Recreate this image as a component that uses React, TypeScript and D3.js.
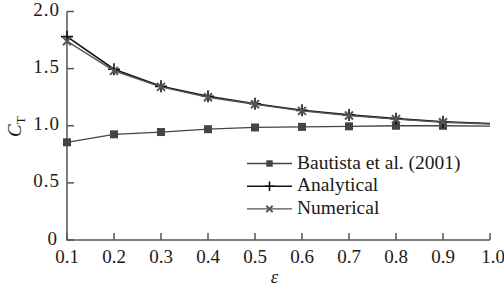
import React from "react";
import * as d3 from "d3";

const epsilon = [0.1, 0.2, 0.3, 0.4, 0.5, 0.6, 0.7, 0.8, 0.9, 1.0];
const bautista = [0.855, 0.925, 0.945, 0.97, 0.985, 0.99, 0.995, 1.0, 1.0, 0.997];
const analytical = [1.78, 1.495, 1.345, 1.258, 1.193, 1.135, 1.095, 1.062, 1.035, 1.02];
const numerical = [1.74, 1.48, 1.34, 1.25, 1.188, 1.13, 1.09, 1.058, 1.03, 1.015];
const xTicks = [0.1, 0.2, 0.3, 0.4, 0.5, 0.6, 0.7, 0.8, 0.9, 1.0];
const yTicks = [0, 0.5, 1.0, 1.5, 2.0];
const legendLabels = ["Bautista et al. (2001)", "Analytical", "Numerical"];

const W = 504, H = 290;
const x = d3.scaleLinear().domain([0.1, 1.0]).range([67, 490]);
const y = d3.scaleLinear().domain([0, 2.0]).range([240, 11.5]);
const font = "Liberation Serif";
const axisColor = "#555";
const textColor = "#1a1a1a";

export default function App() {
  const line = d3.line<number>().x((_, i) => x(epsilon[i])).y((v) => y(v));
  const series = [
    { data: bautista, color: "#444", marker: "square", width: 1.3 },
    { data: analytical, color: "#111", marker: "plus", width: 1.6 },
    { data: numerical, color: "#555", marker: "cross", width: 1.4 },
  ];
  const marker = (m: string, cx: number, cy: number, color: string, key: any, s = 1) => {
    if (m === "square")
      return <rect key={key} x={cx - 4 * s} y={cy - 4 * s} width={8 * s} height={8 * s} fill={color} />;
    if (m === "plus")
      return (
        <path key={key} d={`M${cx - 6 * s},${cy}H${cx + 6 * s}M${cx},${cy - 6 * s}V${cy + 6 * s}`} stroke={color} strokeWidth={1.6} />
      );
    return (
      <path
        key={key}
        d={`M${cx - 4 * s},${cy - 4 * s}L${cx + 4 * s},${cy + 4 * s}M${cx - 4 * s},${cy + 4 * s}L${cx + 4 * s},${cy - 4 * s}`}
        stroke={color}
        strokeWidth={2}
      />
    );
  };
  return (
    <svg width={W} height={H} style={{ position: "absolute", left: 0, top: 0, background: "#fff" }}>
      {/* axes */}
      <path d={`M${x(0.1)},${y(2.0)}V${y(0)}H${x(1.0)}`} fill="none" stroke={axisColor} strokeWidth={1.5} />
      {yTicks.map((t) => (
        <g key={"y" + t}>
          <line x1={x(0.1)} x2={x(0.1) + 7} y1={y(t)} y2={y(t)} stroke={axisColor} strokeWidth={1.5} />
          <text
            x={t === 0 ? 58 : 60}
            y={y(t) + 4.5}
            textAnchor="end"
            fontSize={19}
            letterSpacing={1}
            fill={textColor}
            fontFamily={font}
          >
            {t === 0 ? "0" : t.toFixed(1)}
          </text>
        </g>
      ))}
      {xTicks.map((t) => (
        <g key={"x" + t}>
          <line x1={x(t)} x2={x(t)} y1={y(0)} y2={y(0) - 7} stroke={axisColor} strokeWidth={1.5} />
          <text x={x(t) + (t === 1.0 ? 3 : 0)} y={262.5} textAnchor="middle" fontSize={19} fill={textColor} fontFamily={font}>
            {t.toFixed(1)}
          </text>
        </g>
      ))}
      <text x={274.5} y={283} textAnchor="middle" fontSize={19} fontStyle="italic" fill={textColor} fontFamily={font}>
        ε
      </text>
      <text transform={`translate(21,137) rotate(-90)`} fontSize={19} fill={textColor} fontFamily={font}>
        <tspan fontStyle="italic">C</tspan>
        <tspan fontSize={13} dy={4}>T</tspan>
      </text>
      {/* series */}
      {series.map((s, si) => (
        <g key={si}>
          <path d={line(s.data) || ""} fill="none" stroke={s.color} strokeWidth={s.width} />
          {s.data.slice(0, 9).map((v, i) => marker(s.marker, x(epsilon[i]), y(v), s.color, i))}
        </g>
      ))}
      {/* legend */}
      {series.map((s, i) => {
        const ly = 163.5 + i * 22.7;
        return (
          <g key={"l" + i}>
            <line x1={247} x2={292} y1={ly} y2={ly} stroke={s.color} strokeWidth={s.width} />
            {marker(s.marker, 269.5, ly, s.color, "m", 0.8)}
            <text x={297} y={ly + 5} fontSize={19.5} fill={textColor} fontFamily={font}>
              {legendLabels[i]}
            </text>
          </g>
        );
      })}
    </svg>
  );
}
